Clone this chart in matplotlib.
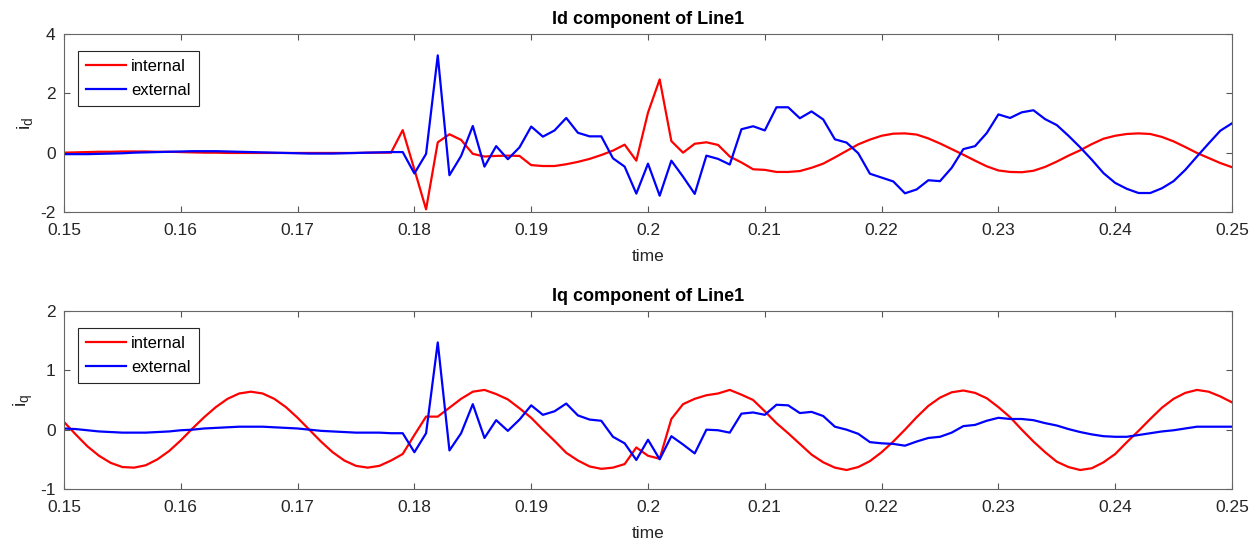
import numpy as np
import matplotlib
matplotlib.use("Agg")
import matplotlib.pyplot as plt

plt.rcParams['font.family'] = ['Liberation Sans', 'DejaVu Sans']
plt.rcParams['axes.unicode_minus'] = False

# sampled every 1 ms from 0.15 s to 0.25 s
time = np.round(np.linspace(0.15, 0.25, 101), 3)

id_internal = [
    0.00, 0.01, 0.02, 0.03, 0.03, 0.04, 0.04, 0.04, 0.03, 0.03,
    0.02, 0.01, 0.00, 0.00, -0.01, -0.01, -0.01, -0.01, -0.01, -0.01,
    -0.01, -0.01, -0.01, -0.01, -0.01, -0.01, 0.00, 0.00, 0.00, 0.76,
    -0.57, -1.91, 0.35, 0.62, 0.43, -0.04, -0.13, -0.11, -0.10, -0.11,
    -0.42, -0.45, -0.45, -0.39, -0.31, -0.21, -0.08, 0.07, 0.27, -0.27,
    1.35, 2.47, 0.39, 0.00, 0.30, 0.35, 0.26, -0.13, -0.33, -0.56,
    -0.58, -0.65, -0.65, -0.62, -0.51, -0.37, -0.16, 0.06, 0.28, 0.44,
    0.57, 0.64, 0.65, 0.61, 0.48, 0.31, 0.12, -0.07, -0.27, -0.46,
    -0.60, -0.65, -0.66, -0.61, -0.48, -0.30, -0.10, 0.08, 0.29, 0.47,
    0.57, 0.63, 0.65, 0.63, 0.53, 0.38, 0.19, -0.01, -0.18, -0.35,
    -0.49,
]
id_external = [
    -0.05, -0.05, -0.05, -0.04, -0.03, -0.02, 0.00, 0.01, 0.02, 0.03,
    0.04, 0.05, 0.05, 0.05, 0.04, 0.03, 0.02, 0.01, 0.00, -0.01,
    -0.02, -0.03, -0.03, -0.03, -0.02, -0.01, 0.00, 0.01, 0.02, 0.02,
    -0.70, -0.04, 3.28, -0.76, -0.11, 0.90, -0.47, 0.22, -0.22, 0.18,
    0.88, 0.54, 0.75, 1.17, 0.67, 0.55, 0.55, -0.19, -0.47, -1.38,
    -0.37, -1.45, -0.27, -0.81, -1.39, -0.10, -0.21, -0.40, 0.79, 0.89,
    0.75, 1.53, 1.53, 1.16, 1.39, 1.12, 0.45, 0.34, -0.02, -0.71,
    -0.84, -0.97, -1.37, -1.24, -0.93, -0.96, -0.51, 0.12, 0.22, 0.66,
    1.29, 1.17, 1.36, 1.43, 1.13, 0.93, 0.57, 0.18, -0.24, -0.69,
    -1.02, -1.22, -1.36, -1.36, -1.20, -0.96, -0.58, -0.13, 0.31, 0.74,
    0.99,
]
iq_internal = [
    0.13, -0.08, -0.28, -0.44, -0.56, -0.63, -0.64, -0.60, -0.50, -0.36,
    -0.18, 0.02, 0.21, 0.38, 0.52, 0.61, 0.64, 0.61, 0.52, 0.38,
    0.20, 0.00, -0.20, -0.38, -0.52, -0.61, -0.64, -0.61, -0.52, -0.41,
    -0.09, 0.22, 0.22, 0.37, 0.52, 0.64, 0.67, 0.60, 0.51, 0.36,
    0.20, 0.00, -0.19, -0.39, -0.52, -0.62, -0.66, -0.64, -0.58, -0.30,
    -0.44, -0.49, 0.18, 0.43, 0.52, 0.58, 0.61, 0.67, 0.59, 0.50,
    0.31, 0.11, -0.06, -0.24, -0.42, -0.55, -0.64, -0.68, -0.63, -0.53,
    -0.38, -0.20, 0.00, 0.21, 0.40, 0.54, 0.63, 0.66, 0.62, 0.53,
    0.38, 0.21, 0.00, -0.20, -0.38, -0.54, -0.63, -0.68, -0.65, -0.55,
    -0.41, -0.21, -0.02, 0.18, 0.37, 0.52, 0.62, 0.67, 0.64, 0.56,
    0.46,
]
iq_external = [
    0.02, 0.01, -0.01, -0.03, -0.04, -0.05, -0.05, -0.05, -0.04, -0.03,
    -0.01, 0.00, 0.02, 0.03, 0.04, 0.05, 0.05, 0.05, 0.04, 0.03,
    0.02, 0.00, -0.02, -0.03, -0.04, -0.05, -0.05, -0.05, -0.06, -0.06,
    -0.38, -0.06, 1.47, -0.35, -0.06, 0.43, -0.14, 0.16, -0.02, 0.17,
    0.41, 0.25, 0.31, 0.44, 0.24, 0.17, 0.15, -0.12, -0.23, -0.51,
    -0.17, -0.50, -0.11, -0.25, -0.40, 0.00, -0.01, -0.05, 0.27, 0.29,
    0.25, 0.42, 0.41, 0.28, 0.30, 0.23, 0.05, 0.00, -0.07, -0.21,
    -0.23, -0.24, -0.27, -0.20, -0.14, -0.12, -0.05, 0.06, 0.08, 0.15,
    0.20, 0.18, 0.18, 0.16, 0.11, 0.07, 0.01, -0.04, -0.08, -0.11,
    -0.12, -0.12, -0.09, -0.06, -0.03, -0.01, 0.02, 0.05, 0.05, 0.05,
    0.05,
]

xticks = [0.15, 0.16, 0.17, 0.18, 0.19, 0.2, 0.21, 0.22, 0.23, 0.24, 0.25]
xtick_labels = ['0.15', '0.16', '0.17', '0.18', '0.19', '0.2',
                '0.21', '0.22', '0.23', '0.24', '0.25']

panels = [
    ("Id component of Line1", r"$\mathregular{i_d}$", id_internal, id_external,
     (-2, 4), [-2, 0, 2, 4]),
    ("Iq component of Line1", r"$\mathregular{i_q}$", iq_internal, iq_external,
     (-1, 2), [-1, 0, 1, 2]),
]

fig = plt.figure(figsize=(12.6, 5.48), dpi=100)
axes_rects = [
    [64 / 1260, 1 - 212 / 548, 1168 / 1260, 178 / 548],
    [64 / 1260, 1 - 489 / 548, 1168 / 1260, 178 / 548],
]

text_col = '#262626'
for rect, (title, ylab, s_int, s_ext, ylim, yticks) in zip(axes_rects, panels):
    ax = fig.add_axes(rect)
    ax.plot(time, s_int, color='#ff0000', lw=1.6, label='internal')
    ax.plot(time, s_ext, color='#0000ff', lw=1.6, label='external')
    ax.set_xlim(0.15, 0.25)
    ax.set_ylim(*ylim)
    ax.set_xticks(xticks)
    ax.set_xticklabels(xtick_labels)
    ax.set_yticks(yticks)
    ax.tick_params(direction='in', length=4, width=0.8, top=True, right=True,
                   labelsize=12.5, colors='#555555', labelcolor=text_col)
    ax.tick_params(axis='x', pad=8)
    ax.tick_params(axis='y', pad=6)
    for sp in ax.spines.values():
        sp.set_color('#666666')
        sp.set_linewidth(0.8)
    ax.set_title(title, fontsize=13, fontweight='bold', color='black', pad=7)
    ax.set_xlabel('time', fontsize=12.5, color=text_col, labelpad=8)
    ax.set_ylabel(ylab, fontsize=14, color=text_col, labelpad=4)
    leg = ax.legend(loc='upper left', bbox_to_anchor=(0.012, 0.905),
                    fontsize=12, handlelength=2.4, handletextpad=0.3,
                    borderpad=0.5, labelspacing=0.5, fancybox=False,
                    framealpha=1, borderaxespad=0)
    leg.get_frame().set_edgecolor('#262626')
    leg.get_frame().set_linewidth(0.8)

fig.savefig('out.png', dpi=100)
